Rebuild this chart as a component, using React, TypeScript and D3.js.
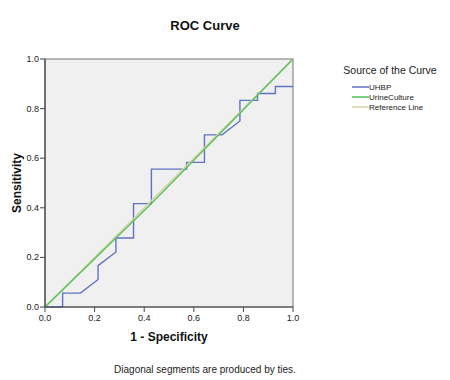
import React from "react";
import * as d3 from "d3";

const title = "ROC Curve";
const xLabel = "1 - Specificity";
const yLabel = "Sensitivity";
const footnote = "Diagonal segments are produced by ties.";
const legendTitle = "Source of the Curve";
const seriesNames = ["UHBP", "UrineCulture", "Reference Line"];
const seriesColors = ["#5f73c4", "#55c25a", "#d8d2a4"];
const tickValues = [0, 0.2, 0.4, 0.6, 0.8, 1.0];

const uhbpFpr = [0, 0.071, 0.071, 0.143, 0.214, 0.214, 0.286, 0.286, 0.357, 0.357, 0.429, 0.429, 0.571, 0.571, 0.643, 0.643, 0.714, 0.786, 0.786, 0.857, 0.857, 0.929, 0.929, 1.0];
const uhbpTpr = [0, 0, 0.056, 0.056, 0.111, 0.167, 0.222, 0.278, 0.278, 0.417, 0.417, 0.556, 0.556, 0.583, 0.583, 0.694, 0.694, 0.75, 0.833, 0.833, 0.861, 0.861, 0.889, 0.889];
const urineFpr = [0, 0.429, 1.0];
const urineTpr = [0, 0.417, 1.0];
const refFpr = [0, 1.0];
const refTpr = [0, 1.0];

const FONT = "'Liberation Sans', Arial, sans-serif";

export default function App() {
  const x = d3.scaleLinear().domain([0, 1]).range([45, 293]);
  const y = d3.scaleLinear().domain([0, 1]).range([307, 59]);
  const line = d3
    .line<[number, number]>()
    .x((d) => x(d[0]))
    .y((d) => y(d[1]));
  const zip = (a: number[], b: number[]) => a.map((v, i) => [v, b[i]] as [number, number]);
  const series = [zip(uhbpFpr, uhbpTpr), zip(urineFpr, urineTpr), zip(refFpr, refTpr)];
  const drawOrder = [0, 2, 1];
  const fmt = d3.format(".1f");

  return (
    <svg width={450} height={380} style={{ position: "absolute", left: 0, top: 0, background: "#fff" }} fontFamily={FONT}>
      <text x={205} y={30} textAnchor="middle" fontSize={13} fontWeight="bold" fill="#111">{title}</text>
      <rect x={x(0)} y={y(1)} width={x(1) - x(0)} height={y(0) - y(1)} fill="#f0f0f0" stroke="#8a8a8a" strokeWidth={1.2} />
      {drawOrder.map((i) => (
        <path key={i} d={line(series[i]) || ""} fill="none" stroke={seriesColors[i]} strokeWidth={1.4} />
      ))}
      {/* axes */}
      <line x1={x(0)} x2={x(0)} y1={y(0)} y2={y(1)} stroke="#444" strokeWidth={1.2} />
      <line x1={x(0)} x2={x(1)} y1={y(0)} y2={y(0)} stroke="#444" strokeWidth={1.2} />
      {tickValues.map((t) => (
        <g key={"y" + t}>
          <line x1={x(0) - 5} x2={x(0)} y1={y(t)} y2={y(t)} stroke="#444" strokeWidth={1} />
          <text x={x(0) - 6} y={y(t) + 3} textAnchor="end" fontSize={9} fill="#222">{fmt(t)}</text>
        </g>
      ))}
      {tickValues.map((t) => (
        <g key={"x" + t}>
          <line x1={x(t)} x2={x(t)} y1={y(0)} y2={y(0) + 5} stroke="#444" strokeWidth={1} />
          <text x={x(t)} y={y(0) + 14} textAnchor="middle" fontSize={9} fill="#222">{fmt(t)}</text>
        </g>
      ))}
      <text x={169} y={341} textAnchor="middle" fontSize={12} fontWeight="bold" fill="#111">{xLabel}</text>
      <text transform={`translate(21,${(y(0) + y(1)) / 2}) rotate(-90)`} textAnchor="middle" fontSize={12} fontWeight="bold" fill="#111">{yLabel}</text>
      <text x={205} y={373} textAnchor="middle" fontSize={10} fill="#222">{footnote}</text>
      <text x={390} y={74} textAnchor="middle" fontSize={10.5} fill="#222">{legendTitle}</text>
      {seriesNames.map((n, i) => (
        <g key={n}>
          <line x1={352} x2={369} y1={87 + i * 10} y2={87 + i * 10} stroke={seriesColors[i]} strokeWidth={1.5} />
          <text x={369} y={90 + i * 10} fontSize={8} fill="#222">{n}</text>
        </g>
      ))}
    </svg>
  );
}
